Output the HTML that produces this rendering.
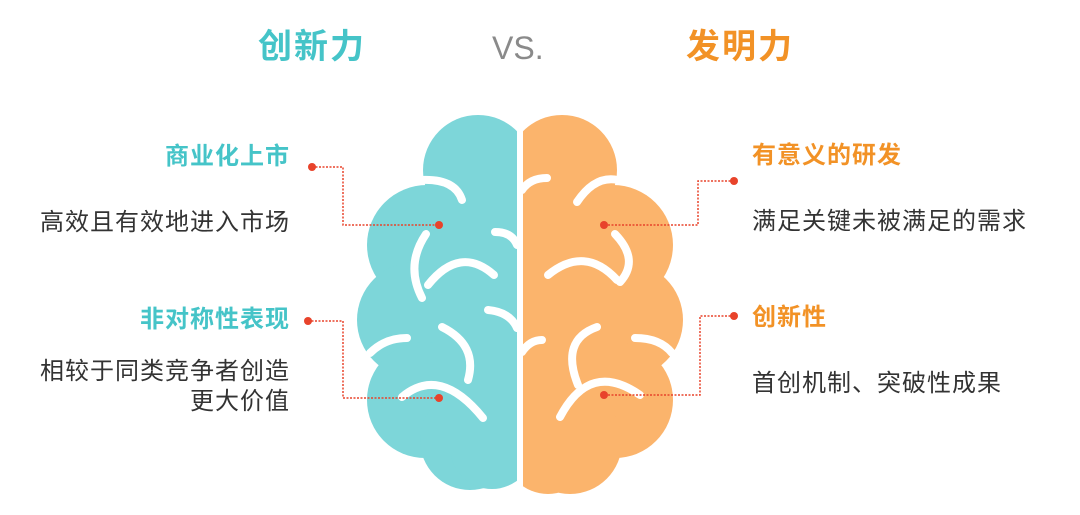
<!DOCTYPE html>
<html><head><meta charset="utf-8"><style>
body{margin:0;width:1080px;height:515px;background:#fff;position:relative;overflow:hidden;font-family:"Liberation Sans","Noto Sans CJK SC",sans-serif}
.t{position:absolute;white-space:nowrap;line-height:1}
.h{font-weight:bold;font-size:24px;letter-spacing:1px}
.b{font-size:24px;color:#333;letter-spacing:1px}
.tl{color:#45c4c8}.or{color:#f29226}
</style></head><body>
<div class="t tl" style="left:258px;top:30px;font-size:34px;font-weight:bold;letter-spacing:2px">创新力</div>
<div class="t" style="left:492px;top:32px;font-size:32px;color:#8a8a8a">VS.</div>
<div class="t or" style="left:686px;top:30px;font-size:34px;font-weight:bold;letter-spacing:2px">发明力</div>

<div class="t h tl" style="right:790px;top:145px">商业化上市</div>
<div class="t b" style="right:790px;top:211px">高效且有效地进入市场</div>
<div class="t h tl" style="right:790px;top:308px">非对称性表现</div>
<div class="t b" style="right:790px;top:360px">相较于同类竞争者创造</div>
<div class="t b" style="right:790px;top:390px">更大价值</div>

<div class="t h or" style="left:752px;top:144px">有意义的研发</div>
<div class="t b" style="left:752px;top:210px">满足关键未被满足的需求</div>
<div class="t h or" style="left:752px;top:306px">创新性</div>
<div class="t b" style="left:752px;top:372px">首创机制、突破性成果</div>

<svg width="1080" height="515" style="position:absolute;left:0;top:0">
<defs>
<clipPath id="cl"><rect x="0" y="0" width="517" height="515"/></clipPath>
<clipPath id="cr"><rect x="523" y="0" width="600" height="515"/></clipPath>
</defs>
<g clip-path="url(#cl)" fill="#7dd6d9">
<circle cx="478" cy="170" r="55"/>
<circle cx="427" cy="245" r="60"/>
<circle cx="415" cy="320" r="58"/>
<circle cx="425" cy="400" r="58"/>
<circle cx="470" cy="440" r="50"/>
<circle cx="492" cy="447" r="42"/>
<rect x="440" y="140" width="80" height="310"/>
</g>
<g clip-path="url(#cr)" fill="#fbb46c">
<circle cx="562" cy="170" r="55"/>
<circle cx="613" cy="245" r="60"/>
<circle cx="625" cy="320" r="58"/>
<circle cx="615" cy="400" r="58"/>
<circle cx="570" cy="442" r="52"/>
<circle cx="548" cy="450" r="44"/>
<rect x="520" y="140" width="80" height="310"/>
</g>
<g fill="none" stroke="#fff" stroke-width="8" stroke-linecap="round">
<path d="M420 180 Q455 178 462 200"/>
<path d="M426 234 Q405 265 422 298"/>
<path d="M428 285 Q460 245 494 275"/>
<path d="M495 232 Q512 232 517 245"/>
<path d="M488 310 Q510 312 517 328"/>
<path d="M370 353 Q385 338 407 338"/>
<path d="M442 327 Q478 345 468 380"/>
<path d="M402 397 Q440 365 483 418"/>
<path d="M522 190 Q530 178 547 178"/>
<path d="M577 202 Q595 175 618 180"/>
<path d="M615 234 Q640 260 620 282"/>
<path d="M548 275 Q585 245 617 280"/>
<path d="M542 340 Q530 340 522 352"/>
<path d="M597 327 Q560 340 578 385"/>
<path d="M635 338 Q660 338 672 353"/>
<path d="M560 417 Q590 360 640 395"/>
</g>
<g fill="none" stroke="#e8432b" stroke-width="1.5" stroke-dasharray="2 1.5">
<path d="M312 167 H343 V225 H439"/>
<path d="M308 321 H343 V398 H439"/>
<path d="M734 181 H698 V225 H604"/>
<path d="M734 316 H700 V395 H604"/>
</g>
<g fill="#e8432b">
<circle cx="312" cy="167" r="4"/><circle cx="439" cy="225" r="4"/>
<circle cx="308" cy="321" r="4"/><circle cx="439" cy="398" r="4"/>
<circle cx="734" cy="181" r="4"/><circle cx="604" cy="225" r="4"/>
<circle cx="734" cy="316" r="4"/><circle cx="604" cy="395" r="4"/>
</g>
</svg>
</body></html>
